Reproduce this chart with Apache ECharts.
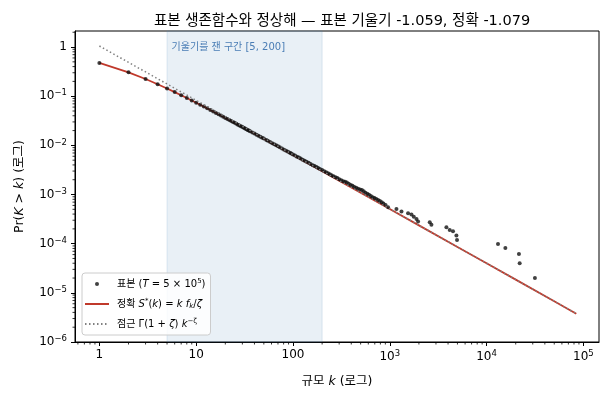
<!DOCTYPE html>
<html lang="ko">
<head>
<meta charset="utf-8">
<script src="https://cdn.jsdelivr.net/npm/echarts@6/dist/echarts.min.js"></script>
<style>
html, body { margin: 0; padding: 0; background: #fff; }
#chart { width: 610px; height: 400px; }
</style>
</head>
<body>
<div id="chart"></div>
<script>
// sample survival Pr(K > k)
var sampleK = [1, 2, 3, 4, 5, 6, 7, 8, 9, 10, 11, 12, 13, 14, 15, 16, 17, 18, 19, 20,
  21, 22, 23, 24, 25, 26, 27, 28, 29, 30, 31, 32, 33, 34, 35, 36, 38, 40, 42, 44, 46, 48,
  50, 53, 55, 58, 61, 64, 67, 70, 73, 77, 81, 85, 89, 93, 96, 100,
  105, 110, 115, 120, 126, 132, 138, 145, 152, 160, 167, 175, 182, 190, 200,
  210, 220, 230, 240, 250, 262, 275, 287, 300, 315, 330, 345, 360, 377, 395, 412, 430,
  450, 470, 492, 515, 537, 560, 585, 610, 637, 665, 695, 725, 757, 790, 825, 860, 905, 960,
  1172, 1321, 1545, 1675, 1770, 1888, 1960,
  2588, 2693, 3846, 4160, 4500, 4879, 4950, 13120, 15630, 21590, 21970, 31570];
var sampleS = [0.4751, 0.3062, 0.2235, 0.1750, 0.1436, 0.1213, 0.1046, 0.0921, 0.0818, 0.0739,
  0.0671, 0.0615, 0.0566, 0.0525, 0.0489, 0.0457, 0.0429, 0.0405, 0.0382, 0.0362,
  0.0344, 0.0327, 0.0313, 0.0299, 0.0287, 0.0275, 0.0264, 0.0254, 0.0245, 0.0236,
  0.0228, 0.0220, 0.0213, 0.0206, 0.0200, 0.0194, 0.0183, 0.0174, 0.0165, 0.0157, 0.0150, 0.0143,
  0.0138, 0.0129, 0.0124, 0.0117, 0.0111, 0.0105, 0.0100, 0.00955, 0.00912, 0.00862,
  0.00816, 0.00775, 0.00738, 0.00704, 0.00680, 0.00652,
  0.00620, 0.00590, 0.00564, 0.00538, 0.00512, 0.00487, 0.00464, 0.00441, 0.00420, 0.00396,
  0.00380, 0.00361, 0.00347, 0.00331, 0.00314,
  0.00297, 0.00284, 0.00270, 0.00259, 0.00247, 0.00236, 0.00224, 0.00216, 0.00205, 0.00196,
  0.00186, 0.00182, 0.00175, 0.00166, 0.00157, 0.00150, 0.00142,
  0.00137, 0.00131, 0.00127, 0.00123, 0.00117, 0.00109, 0.00104, 0.000990, 0.000935, 0.000880,
  0.000850, 0.000815, 0.000775, 0.000735, 0.000695, 0.000655, 0.000610, 0.00055,
  0.00051, 0.00045, 0.000415, 0.00039, 0.000355, 0.000319, 0.000281,
  0.000272, 0.000244, 0.000215, 0.00019, 0.000178, 0.000146, 0.000119,
  0.000099, 0.000082, 0.000062, 0.00004, 0.00002];

// exact S*(k)
var exactK = [1, 2, 3, 4, 5, 6, 7, 8, 10, 12, 14, 17, 20, 30, 50, 100, 200, 500,
  1000, 2000, 5000, 10000, 20000, 50000, 84500];
var exactS = [0.4751, 0.3060, 0.2236, 0.1752, 0.1435, 0.1212, 0.1047, 0.0920, 0.0738, 0.0614,
  0.0525, 0.0429, 0.03621, 0.02355, 0.0136, 0.006393, 0.00299, 0.00109, 0.0005071, 0.0002359,
  0.0000857, 0.0000399, 0.00001855, 0.00000674, 0.00000377];

// asymptote
var asymK = [1, 84500];
var asymS = [1.049, 0.00000378];

var bandRange = [5, 200];

var xMin = 0.56, xMax = 145000, yMin = 0.000001, yMax = 2.12;

function pairs(a, b) {
  return a.map(function (v, i) { return [v, b[i]]; });
}

// minor ticks at 2..9 x 10^n (log axis minor ticks)
var minorTicks = [];
for (var e = -1; e <= 5; e++) {
  for (var m = 2; m <= 9; m++) {
    var v = m * Math.pow(10, e);
    if (v > xMin && v < xMax) minorTicks.push([v, yMin, 0]);
  }
}
for (e = -6; e <= 0; e++) {
  for (m = 2; m <= 9; m++) {
    v = m * Math.pow(10, e);
    if (v > yMin && v < yMax) minorTicks.push([xMin, v, 1]);
  }
}

var ff = '"DejaVu Sans", "Noto Sans CJK KR", sans-serif';
var tf = '"DejaVu Sans", sans-serif';

function expOf(v) {
  var l = Math.log10(v);
  var e = Math.round(l);
  return Math.abs(l - e) < 1e-6 ? e : null;
}
function xLabel(v) {
  var e = expOf(v);
  if (e === null) return '';
  if (e === 0) return '1';
  if (e === 1) return '10';
  if (e === 2) return '100';
  return '{b|10}{s|' + e + '}';
}
function yLabel(v) {
  var e = expOf(v);
  if (e === null) return '';
  if (e === 0) return '1';
  return '{b|10}{s|' + (e < 0 ? '\u2212' + (-e) : e) + '}';
}
var tickRich = {
  b: { fontFamily: tf, fontSize: 12, color: '#000', lineHeight: 15 },
  s: { fontFamily: tf, fontSize: 8.5, color: '#000', lineHeight: 15, verticalAlign: 'top' }
};

var legendText = {
  sample: '표본 ({i|T} = 5 × 10{s|5})',
  exact: '정확 {i|S}{s|*}({i|k}) = {i|k f}{d|k}/{i|ζ}',
  asym: '점근 Γ(1 + {i|ζ}) {i|k}{s|−ζ}'
};

var chart = echarts.init(document.getElementById('chart'));
chart.setOption({
  animation: false,
  title: {
    text: '표본 생존함수와 정상해 — 표본 기울기 -1.059, 정확 -1.079',
    left: 337, top: 9, textAlign: 'center',
    textStyle: { fontFamily: ff, fontSize: 14.5, fontWeight: 'normal', color: '#000' }
  },
  grid: { left: 75, right: 11, top: 31, bottom: 58, show: true, borderColor: '#000', borderWidth: 1 },
  legend: {
    orient: 'vertical', left: 82, top: 273,
    padding: [5, 5, 5, 2], itemGap: 8, itemWidth: 24, itemHeight: 4,
    backgroundColor: 'rgba(255,255,255,0.85)', borderColor: '#cccccc', borderWidth: 1, borderRadius: 3,
    data: [
      { name: 'sample', icon: 'circle' },
      { name: 'exact', itemStyle: { opacity: 0 } },
      { name: 'asym', itemStyle: { opacity: 0 } }
    ],
    formatter: function (name) { return legendText[name]; },
    textStyle: {
      fontFamily: ff, fontSize: 10, color: '#000', lineHeight: 12, padding: [0, 0, 0, 3],
      rich: {
        i: { fontFamily: tf, fontStyle: 'italic', fontSize: 10, color: '#000', lineHeight: 12 },
        s: { fontFamily: tf, fontSize: 7, color: '#000', verticalAlign: 'top', lineHeight: 12 },
        d: { fontFamily: tf, fontStyle: 'italic', fontSize: 7, color: '#000', verticalAlign: 'bottom', lineHeight: 12 }
      }
    }
  },
  xAxis: {
    type: 'log', logBase: 10, min: xMin, max: xMax,
    name: '규모 {i|k} (로그)', nameLocation: 'middle', nameGap: 33,
    nameTextStyle: { fontFamily: ff, fontSize: 12.5, color: '#000',
      rich: { i: { fontFamily: tf, fontStyle: 'italic', fontSize: 12.5, color: '#000' } } },
    axisLine: { show: true, lineStyle: { color: '#000', width: 1 } },
    axisTick: { show: true, length: 4, lineStyle: { color: '#000' } },
    splitLine: { show: false },
    axisLabel: { formatter: xLabel, rich: tickRich, color: '#000', fontFamily: tf, fontSize: 12, margin: 7,
      showMinLabel: false, showMaxLabel: false }
  },
  yAxis: {
    type: 'log', logBase: 10, min: yMin, max: yMax,
    name: 'Pr({i|K} > {i|k}) (로그)', nameLocation: 'middle', nameGap: 49, nameRotate: 90,
    nameTextStyle: { fontFamily: ff, fontSize: 12.5, color: '#000',
      rich: { i: { fontFamily: tf, fontStyle: 'italic', fontSize: 12.5, color: '#000' } } },
    axisLine: { show: true, lineStyle: { color: '#000', width: 1 } },
    axisTick: { show: true, length: 4, lineStyle: { color: '#000' } },
    splitLine: { show: false },
    axisLabel: { formatter: yLabel, rich: tickRich, color: '#000', fontFamily: tf, fontSize: 12, margin: 8,
      showMinLabel: true, showMaxLabel: false }
  },
  series: [
    {
      name: 'band', type: 'line', data: [], z: 1, silent: true,
      markArea: {
        silent: true,
        itemStyle: { color: 'rgba(70,130,180,0.12)', borderColor: 'rgba(70,130,180,0.16)', borderWidth: 1 },
        label: { show: true, position: 'insideTopLeft', distance: 5, offset: [0, 7], color: '#4a7db5',
          fontFamily: ff, fontSize: 10 },
        data: [[{ xAxis: bandRange[0], name: '기울기를 잰 구간 [' + bandRange[0] + ', ' + bandRange[1] + ']' },
                { xAxis: bandRange[1] }]]
      }
    },
    {
      name: 'minorTicks', type: 'custom', data: minorTicks, silent: true, clip: false, z: 5,
      renderItem: function (params, api) {
        var p = api.coord([api.value(0), api.value(1)]);
        var vert = api.value(2) === 0;
        return {
          type: 'line',
          shape: vert ? { x1: p[0], y1: p[1], x2: p[0], y2: p[1] + 2.5 }
                      : { x1: p[0] - 2.5, y1: p[1], x2: p[0], y2: p[1] },
          style: { stroke: '#000', lineWidth: 0.8 }
        };
      }
    },
    {
      name: 'exact', type: 'line', data: pairs(exactK, exactS), symbol: 'none', z: 2,
      lineStyle: { color: '#c0392b', width: 1.8 }, itemStyle: { color: '#c0392b' }
    },
    {
      name: 'sample', type: 'scatter', data: pairs(sampleK, sampleS), symbolSize: 4, z: 3,
      itemStyle: { color: '#111' }
    },
    {
      name: 'asym', type: 'line', data: pairs(asymK, asymS), symbol: 'none', z: 4,
      lineStyle: { color: '#808080', width: 1.5, type: [1.5, 2.5] }, itemStyle: { color: '#808080' }
    }
  ]
});
</script>
</body>
</html>
